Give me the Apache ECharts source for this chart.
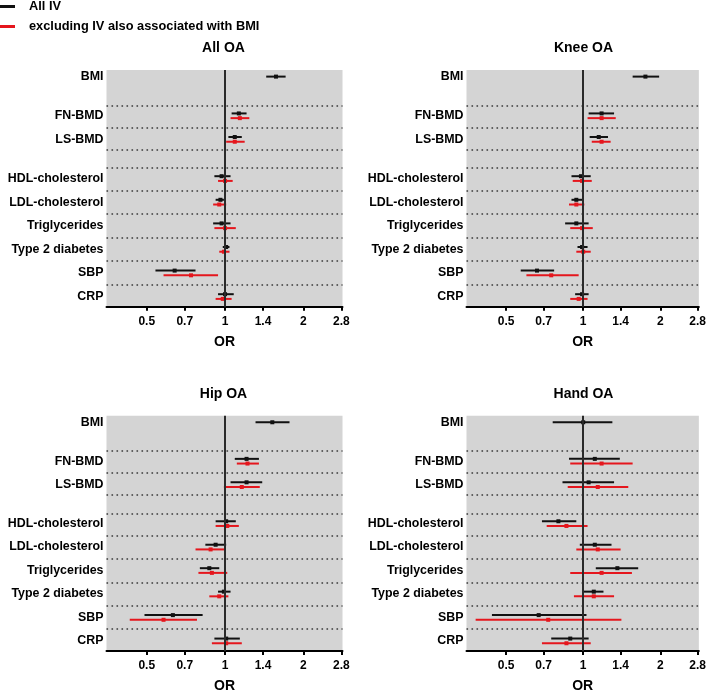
<!DOCTYPE html>
<html lang="en">
<head>
<meta charset="UTF-8">
<title>OA forest plots</title>
<script src="https://cdn.jsdelivr.net/npm/echarts@6.0.0/dist/echarts.min.js"></script>
<style>html, body { margin: 0; padding: 0; background: #fff; }</style>
</head>
<body>
<div id="main" style="width:709px;height:694px;"></div>
<script>
// exposures, top to bottom
const categories = ['BMI', 'FN-BMD', 'LS-BMD', 'HDL-cholesterol', 'LDL-cholesterol',
    'Triglycerides', 'Type 2 diabetes', 'SBP', 'CRP'];
// number of exposures in each block (blocks are split by a wider gap)
const blocks = [1, 2, 6];
const panelTitles = ['All OA', 'Knee OA', 'Hip OA', 'Hand OA'];
const tickValues = [0.5, 0.7, 1, 1.4, 2, 2.8];
const seriesNames = ['All IV', 'excluding IV also associated with BMI'];

// [OR, lower CI, upper CI] per exposure, null = not estimated
const allOA_allIV = [[1.57, 1.44, 1.71], [1.13, 1.06, 1.21], [1.09, 1.03, 1.16], [0.97, 0.91, 1.05],
    [0.96, 0.92, 0.99], [0.97, 0.90, 1.05], [1.01, 0.98, 1.04], [0.64, 0.54, 0.77], [1.00, 0.94, 1.08]];
const allOA_excl = [null, [1.14, 1.05, 1.24], [1.09, 1.01, 1.19], [1.00, 0.94, 1.07],
    [0.95, 0.90, 1.01], [1.00, 0.91, 1.10], [0.99, 0.95, 1.04], [0.74, 0.58, 0.94], [0.98, 0.92, 1.06]];

const kneeOA_allIV = [[1.75, 1.56, 1.98], [1.18, 1.05, 1.32], [1.15, 1.06, 1.25], [0.98, 0.90, 1.07],
    [0.94, 0.90, 0.99], [0.94, 0.85, 1.05], [0.99, 0.95, 1.04], [0.66, 0.57, 0.77], [0.99, 0.93, 1.05]];
const kneeOA_excl = [null, [1.18, 1.04, 1.34], [1.18, 1.08, 1.28], [0.99, 0.91, 1.08],
    [0.94, 0.88, 1.01], [0.99, 0.89, 1.09], [1.00, 0.94, 1.07], [0.75, 0.60, 0.96], [0.96, 0.89, 1.04]];

const hipOA_allIV = [[1.52, 1.31, 1.77], [1.21, 1.09, 1.35], [1.21, 1.05, 1.39], [1.01, 0.92, 1.10],
    [0.92, 0.84, 1.01], [0.87, 0.80, 0.95], [0.99, 0.94, 1.05], [0.63, 0.49, 0.82], [1.01, 0.91, 1.14]];
const hipOA_excl = [null, [1.22, 1.11, 1.35], [1.16, 0.99, 1.36], [1.02, 0.92, 1.13],
    [0.88, 0.77, 1.00], [0.89, 0.79, 1.02], [0.95, 0.87, 1.03], [0.58, 0.43, 0.78], [1.01, 0.89, 1.16]];

const handOA_allIV = [[1.00, 0.76, 1.30], [1.11, 0.88, 1.39], [1.05, 0.83, 1.32], [0.80, 0.69, 0.94],
    [1.11, 0.97, 1.29], [1.36, 1.12, 1.64], [1.10, 1.00, 1.20], [0.67, 0.44, 1.03], [0.89, 0.75, 1.05]];
const handOA_excl = [null, [1.18, 0.89, 1.56], [1.14, 0.87, 1.50], [0.86, 0.72, 1.04],
    [1.14, 0.94, 1.40], [1.18, 0.89, 1.55], [1.10, 0.92, 1.32], [0.73, 0.38, 1.41], [0.86, 0.69, 1.07]];

const panels = [
    [allOA_allIV, allOA_excl],
    [kneeOA_allIV, kneeOA_excl],
    [hipOA_allIV, hipOA_excl],
    [handOA_allIV, handOA_excl]
];

const colors = ['#111111', '#e5161d'];
const FONT = 'Arial, "Liberation Sans", Helvetica, sans-serif';

// row positions (in row units) and dotted separators
const blockGap = 1.66;
const rowPos = [];
let p = 0;
blocks.forEach(n => {
    for (let i = 0; i < n; i++) { rowPos.push(p); p += 1; }
    p += blockGap - 1;
});
const separators = [];
let start = 0;
blocks.forEach((n, b) => {
    if (b > 0) separators.push(rowPos[start] - 0.44);
    for (let i = 1; i < n; i++) separators.push((rowPos[start + i - 1] + rowPos[start + i]) / 2);
    if (b > 0 && b < blocks.length - 1) separators.push(rowPos[start + n - 1] + 0.43);
    start += n;
});

const gridLefts = [106.5, 466.5];
const gridTops = [70, 415.7];
const gridW = 236, gridH = 236.7;

function renderCI(params, api) {
    const y = api.value(0);
    const lo = api.coord([api.value(2), y]);
    const hi = api.coord([api.value(3), y]);
    const mid = api.coord([api.value(1), y]);
    const c = api.visual('color');
    return {
        type: 'group',
        children: [
            { type: 'line', shape: { x1: lo[0], y1: lo[1], x2: hi[0], y2: hi[1] },
              style: { stroke: c, lineWidth: 2 } },
            { type: 'rect', shape: { x: mid[0] - 2, y: mid[1] - 2, width: 4, height: 4 },
              style: { fill: c } }
        ]
    };
}

const grids = [], xAxes = [], yAxes = [], titles = [], series = [];
panels.forEach((pair, k) => {
    const left = gridLefts[k % 2], top = gridTops[Math.floor(k / 2)];
    grids.push({ left: left, top: top, width: gridW, height: gridH, show: true,
        backgroundColor: '#d4d4d4', borderWidth: 0, containLabel: false });
    titles.push({ text: panelTitles[k], left: left + gridW / 2 - 1, top: top - 28.5, textAlign: 'center',
        padding: 0, textStyle: { fontFamily: FONT, fontSize: 14, fontWeight: 'bold', color: '#000' } });
    xAxes.push({
        gridIndex: k, type: 'log', logBase: 2, min: 0.35, max: 2.83,
        name: 'OR', nameLocation: 'middle', nameGap: 28,
        nameTextStyle: { fontFamily: FONT, fontSize: 14, fontWeight: 'bold', color: '#000' },
        axisLine: { onZero: false, lineStyle: { color: '#000', width: 2 } },
        axisTick: { customValues: tickValues, length: 4, lineStyle: { color: '#000', width: 2 } },
        axisLabel: { customValues: tickValues, margin: 9, fontFamily: FONT, fontSize: 12,
            fontWeight: 'bold', color: '#000', formatter: v => String(Math.round(v * 10) / 10) },
        splitLine: { show: false }
    });
    yAxes.push({
        gridIndex: k, type: 'value', inverse: true, min: -0.28, max: 9.75,
        axisLine: { show: false }, axisTick: { show: false }, splitLine: { show: false },
        axisLabel: { customValues: rowPos, margin: 3, fontFamily: FONT, fontSize: 12.4,
            fontWeight: 'bold', color: '#000',
            formatter: v => {
                const i = rowPos.findIndex(r => Math.abs(r - v) < 1e-6);
                return i >= 0 ? categories[i] : '';
            } }
    });
    pair.forEach((rows, s) => {
        const other = pair[1 - s];
        const data = [];
        rows.forEach((r, i) => {
            if (!r) return;
            const off = other[i] ? (s === 0 ? -0.1 : 0.1) : 0;
            data.push([rowPos[i] + off, r[0], r[1], r[2]]);
        });
        const ser = {
            type: 'custom', name: seriesNames[s], xAxisIndex: k, yAxisIndex: k,
            renderItem: renderCI, itemStyle: { color: colors[s] },
            encode: { x: [1, 2, 3], y: 0 }, data: data, z: 3
        };
        if (s === 0) {
            ser.markLine = {
                silent: true, symbol: 'none', label: { show: false }, animation: false,
                data: separators.map(v => ({ yAxis: v, lineStyle: { color: '#3a3a3a', width: 1.6, type: [1.6, 3.4] } }))
                    .concat([{ xAxis: 1, lineStyle: { color: '#2a2a2a', width: 2, type: 'solid' } }])
            };
        }
        series.push(ser);
    });
});

const chart = echarts.init(document.getElementById('main'));
chart.setOption({
    animation: false,
    backgroundColor: '#fff',
    title: titles,
    legend: {
        data: seriesNames, orient: 'vertical', left: 0, top: 0, padding: 0, itemGap: 7,
        itemWidth: 15, itemHeight: 3, icon: 'rect',
        textStyle: { fontFamily: FONT, fontSize: 12.8, fontWeight: 'bold', color: '#000', padding: [0, 0, 0, 9] }
    },
    grid: grids,
    xAxis: xAxes,
    yAxis: yAxes,
    series: series
});
</script>
</body>
</html>
